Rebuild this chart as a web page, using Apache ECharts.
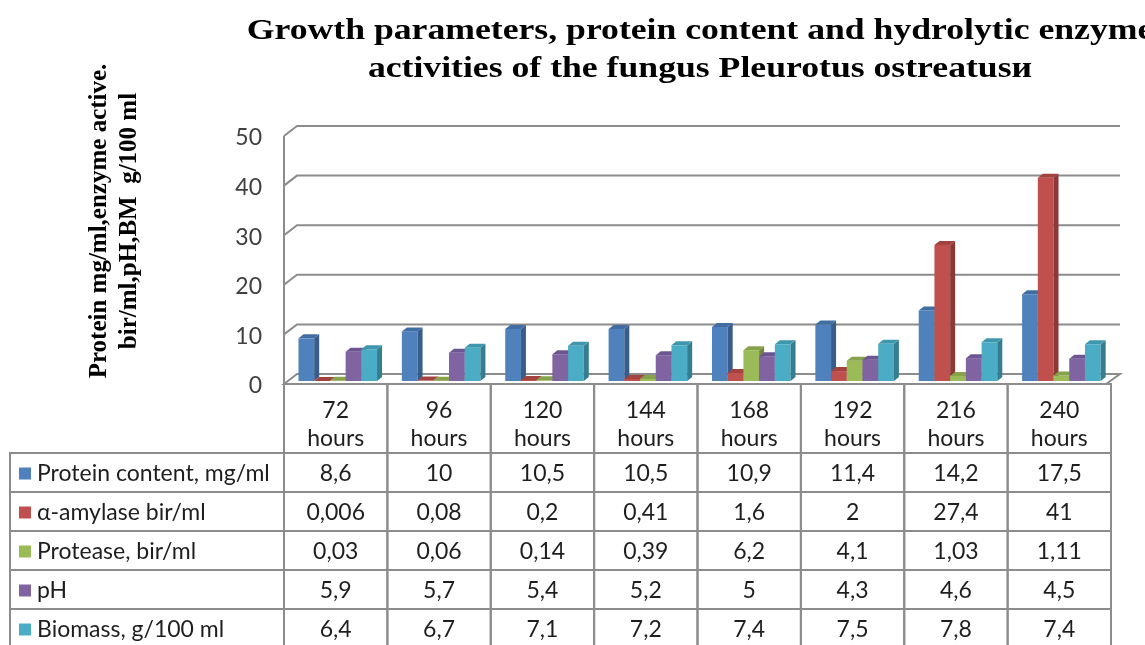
<!DOCTYPE html>
<html>
<head>
<meta charset="utf-8">
<script src="https://cdn.jsdelivr.net/npm/echarts@6/dist/echarts.min.js"></script>
<style>
  html, body { margin: 0; padding: 0; background: #fff; }
  #chart { width: 1145px; height: 645px; }
</style>
</head>
<body>
<div id="chart"></div>
<script>
// data
const categories = ['72 hours', '96 hours', '120 hours', '144 hours', '168 hours', '192 hours', '216 hours', '240 hours'];
const seriesNames = ['Protein content, mg/ml', 'α-amylase bir/ml', 'Protease, bir/ml', 'pH', 'Biomass, g/100 ml'];
const protein = [8.6, 10, 10.5, 10.5, 10.9, 11.4, 14.2, 17.5];
const amylase = [0.006, 0.08, 0.2, 0.41, 1.6, 2, 27.4, 41];
const protease = [0.03, 0.06, 0.14, 0.39, 6.2, 4.1, 1.03, 1.11];
const ph = [5.9, 5.7, 5.4, 5.2, 5, 4.3, 4.6, 4.5];
const biomass = [6.4, 6.7, 7.1, 7.2, 7.4, 7.5, 7.8, 7.4];
const yTicks = [0, 10, 20, 30, 40, 50];

const allSeries = [protein, amylase, protease, ph, biomass];

// Excel 2007 palette: front / side / top
const colors = [
  ['#4F81BD', '#385D8A', '#416DA3'],
  ['#C0504D', '#8C3836', '#A34340'],
  ['#9BBB59', '#71893F', '#86A24B'],
  ['#8064A2', '#5C4776', '#6C5590'],
  ['#4BACC6', '#357D91', '#3F97AE']
];

const labelFont = 'Lato, "Open Sans", sans-serif';
const serifFont = '"Liberation Serif", "Times New Roman", serif';
const lineColor = '#8c8c8c';
const rowTop0 = 453;
const rowH = 39;

// comma decimals like the source table
function fmt(v) {
  return String(v).replace('.', ',');
}

// 3D-looking column: front, right side, top
function barItem(k) {
  return function (params, api) {
    const i = api.value(0);
    const v = api.value(1);
    const cw = api.size([1, 0])[0];
    const bw = cw * 0.152;
    const base = api.coord([i, 0]);
    const left = base[0] - cw / 2 + cw * 0.14 + k * bw;
    const yb = base[1];
    const yt = api.coord([i, v])[1];
    const d = 5, e = 4;
    return {
      type: 'group',
      children: [
        { type: 'rect', shape: { x: left, y: yt, width: bw, height: yb - yt }, style: { fill: colors[k][0] } },
        { type: 'polygon', shape: { points: [[left + bw, yt], [left + bw + d, yt - e], [left + bw + d, yb - e], [left + bw, yb]] }, style: { fill: colors[k][1] } },
        { type: 'polygon', shape: { points: [[left, yt], [left + d, yt - e], [left + bw + d, yt - e], [left + bw, yt]] }, style: { fill: colors[k][2] } }
      ]
    };
  };
}

// walls, floor and tick labels of the 3D box, one entry per tick
function wallItem(params, api) {
  const v = api.value(1);
  const cs = params.coordSys;
  const x0 = cs.x, x1 = cs.x + cs.width;
  const y = api.coord([0, v])[1];
  const children = [];
  if (v === 0) {
    children.push({
      type: 'polygon',
      shape: { points: [[x0, y + 3], [x0 + 13, y - 7], [x1 + 9, y - 7], [x1 - 5, y + 3]] },
      style: { fill: '#fff', stroke: lineColor, lineWidth: 2 }
    });
    const ytop = api.coord([0, yTicks[yTicks.length - 1]])[1];
    children.push({
      type: 'line',
      shape: { x1: x0, y1: ytop + 3, x2: x0, y2: y + 3 },
      style: { stroke: lineColor, lineWidth: 2 }
    });
  } else {
    children.push({
      type: 'polyline',
      shape: { points: [[x0, y + 3], [x0 + 13, y - 7], [x1 + 9, y - 7]] },
      style: { stroke: lineColor, lineWidth: 2, fill: null }
    });
  }
  children.push({
    type: 'text',
    style: {
      text: String(v), x: x0 - 22, y: y + 5,
      align: 'right', verticalAlign: 'middle',
      fontSize: 23, fontFamily: labelFont, fill: '#404040'
    }
  });
  return { type: 'group', children: children };
}

// data table under the plot, columns follow the category axis
function tableItem(params, api) {
  const i = api.value(0);
  const cw = api.size([1, 0])[0];
  const base = api.coord([i, 0]);
  const cx = base[0];
  const xl = cx - cw / 2;
  const headTop = base[1] + 3;
  const children = [];
  const cellStyle = { fill: 'none', stroke: lineColor, lineWidth: 2 };
  children.push({ type: 'rect', shape: { x: xl, y: headTop, width: cw, height: rowTop0 - headTop }, style: cellStyle });
  allSeries.forEach(function (vals, r) {
    const yt = rowTop0 + r * rowH;
    children.push({ type: 'rect', shape: { x: xl, y: yt, width: cw, height: rowH }, style: cellStyle });
    children.push({
      type: 'text',
      style: {
        text: fmt(vals[i]), x: cx, y: yt + rowH / 2 + 1,
        align: 'center', verticalAlign: 'middle',
        fontSize: 23, fontFamily: labelFont, fill: '#1e1e1e'
      }
    });
    if (i === 0) {
      children.push({ type: 'rect', shape: { x: 10, y: yt, width: xl - 10, height: rowH }, style: cellStyle });
      children.push({ type: 'rect', shape: { x: 19, y: yt + rowH / 2 - 5, width: 12, height: 12 }, style: { fill: colors[r][0] } });
      children.push({
        type: 'text',
        style: {
          text: seriesNames[r], x: 37, y: yt + rowH / 2 + 1,
          align: 'left', verticalAlign: 'middle',
          fontSize: 23, fontFamily: labelFont, fill: '#1e1e1e'
        }
      });
    }
  });
  return { type: 'group', children: children };
}

const chart = echarts.init(document.getElementById('chart'));

const series = [
  {
    type: 'custom',
    renderItem: wallItem,
    data: yTicks.map(function (t) { return [0, t]; }),
    clip: false,
    silent: true,
    z: 1
  },
  {
    type: 'custom',
    renderItem: tableItem,
    data: categories.map(function (c, i) { return [i, 0]; }),
    clip: false,
    silent: true,
    z: 1
  }
];
allSeries.forEach(function (vals, k) {
  series.push({
    type: 'custom',
    name: seriesNames[k],
    renderItem: barItem(k),
    data: vals.map(function (v, i) { return [i, v]; }),
    clip: false,
    z: 2
  });
});

chart.setOption({
  animation: false,
  grid: { left: 284, right: 34, top: 133, bottom: 264, outerBoundsMode: 'none' },
  xAxis: {
    type: 'category',
    data: categories,
    axisLine: { show: false },
    axisTick: { show: false },
    axisLabel: {
      interval: 0,
      margin: 16,
      fontSize: 23,
      lineHeight: 28,
      fontFamily: labelFont,
      color: '#1e1e1e',
      formatter: function (v) { return v.replace(' ', '\n'); }
    }
  },
  yAxis: {
    type: 'value',
    min: 0,
    max: 50,
    interval: 10,
    splitLine: { show: false },
    axisLine: { show: false },
    axisTick: { show: false },
    axisLabel: { show: false }
  },
  graphic: [
    {
      type: 'text',
      x: 700,
      y: 51,
      scaleX: 1.23,
      style: {
        text: 'Growth parameters, protein content and hydrolytic enzyme\nactivities of the fungus Pleurotus ostreatusи',
        align: 'center',
        verticalAlign: 'middle',
        lineHeight: 38,
        font: 'bold 29px ' + serifFont,
        fill: '#000'
      }
    },
    {
      type: 'text',
      x: 115,
      y: 221,
      rotation: Math.PI / 2,
      style: {
        text: 'Protein mg/ml,enzyme active.\nbir/ml,pH,BM  g/100 ml',
        align: 'center',
        verticalAlign: 'middle',
        lineHeight: 30,
        font: 'bold 25px ' + serifFont,
        fill: '#000'
      }
    }
  ],
  series: series
});
</script>
</body>
</html>
